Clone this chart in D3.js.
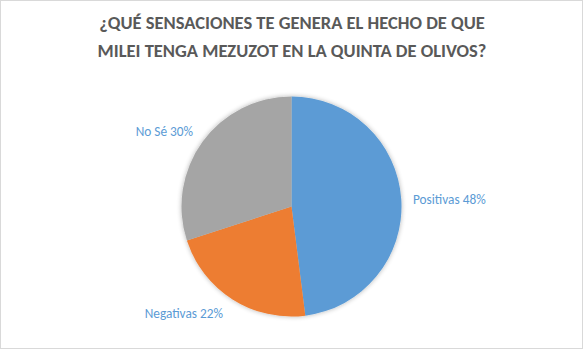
<!DOCTYPE html>
<html><head><meta charset="utf-8">
<script src="https://cdn.jsdelivr.net/npm/d3@7"></script>
<style>body{margin:0;background:#fff}svg{display:block}</style>
</head><body>
<script>
const categories = ["Positivas", "Negativas", "No Sé"];
const values = [48, 22, 30];
const colors = ["#5B9BD5", "#ED7D31", "#A5A5A5"];
const titleLines = ["¿QUÉ SENSACIONES TE GENERA EL HECHO DE QUE", "MILEI TENGA MEZUZOT EN LA QUINTA DE OLIVOS?"];

const W = 583, H = 349;
const svg = d3.select("body").append("svg").attr("width", W).attr("height", H);
svg.append("rect").attr("x", 0.5).attr("y", 0.5).attr("width", W - 1).attr("height", H - 1)
  .attr("fill", "#fff").attr("stroke", "#d9d9d9");

const defs = svg.append("defs");
const f = defs.append("filter").attr("id", "sh").attr("x", "-20%").attr("y", "-20%").attr("width", "140%").attr("height", "140%");
f.append("feGaussianBlur").attr("in", "SourceAlpha").attr("stdDeviation", 2.5).attr("result", "b");
f.append("feComponentTransfer").attr("in", "b").attr("result", "b2")
  .append("feFuncA").attr("type", "linear").attr("slope", 0.3);
const m = f.append("feMerge");
m.append("feMergeNode").attr("in", "b2");
m.append("feMergeNode").attr("in", "SourceGraphic");

const t = svg.append("text").attr("text-anchor", "middle").attr("fill", "#595959")
  .style("font-family", "Carlito, 'Open Sans', sans-serif").style("font-weight", "bold").style("font-size", "18.5px");
titleLines.forEach((l, i) => t.append("tspan").attr("x", 292).attr("y", 29 + i * 28).text(l));

const cx = 291.5, cy = 206.5, r = 110;
const pie = d3.pie().sort(null).value(d => d)(values);
const arc = d3.arc().innerRadius(0).outerRadius(r);
const g = svg.append("g").attr("transform", `translate(${cx},${cy})`).attr("filter", "url(#sh)");
g.selectAll("path").data(pie).join("path").attr("d", arc).attr("fill", (d, i) => colors[i]);

const labelPos = [[413, 204, "start"], [223, 318, "end"], [193, 136, "end"]];
svg.selectAll("text.lbl").data(pie).join("text").attr("class", "lbl")
  .attr("x", (d, i) => labelPos[i][0]).attr("y", (d, i) => labelPos[i][1])
  .attr("text-anchor", (d, i) => labelPos[i][2])
  .attr("fill", "#5B9BD5").style("font-family", "Carlito, 'Open Sans', sans-serif").style("font-size", "13.3px")
  .text((d, i) => categories[i] + " " + values[i] + "%");
</script>
</body></html>
